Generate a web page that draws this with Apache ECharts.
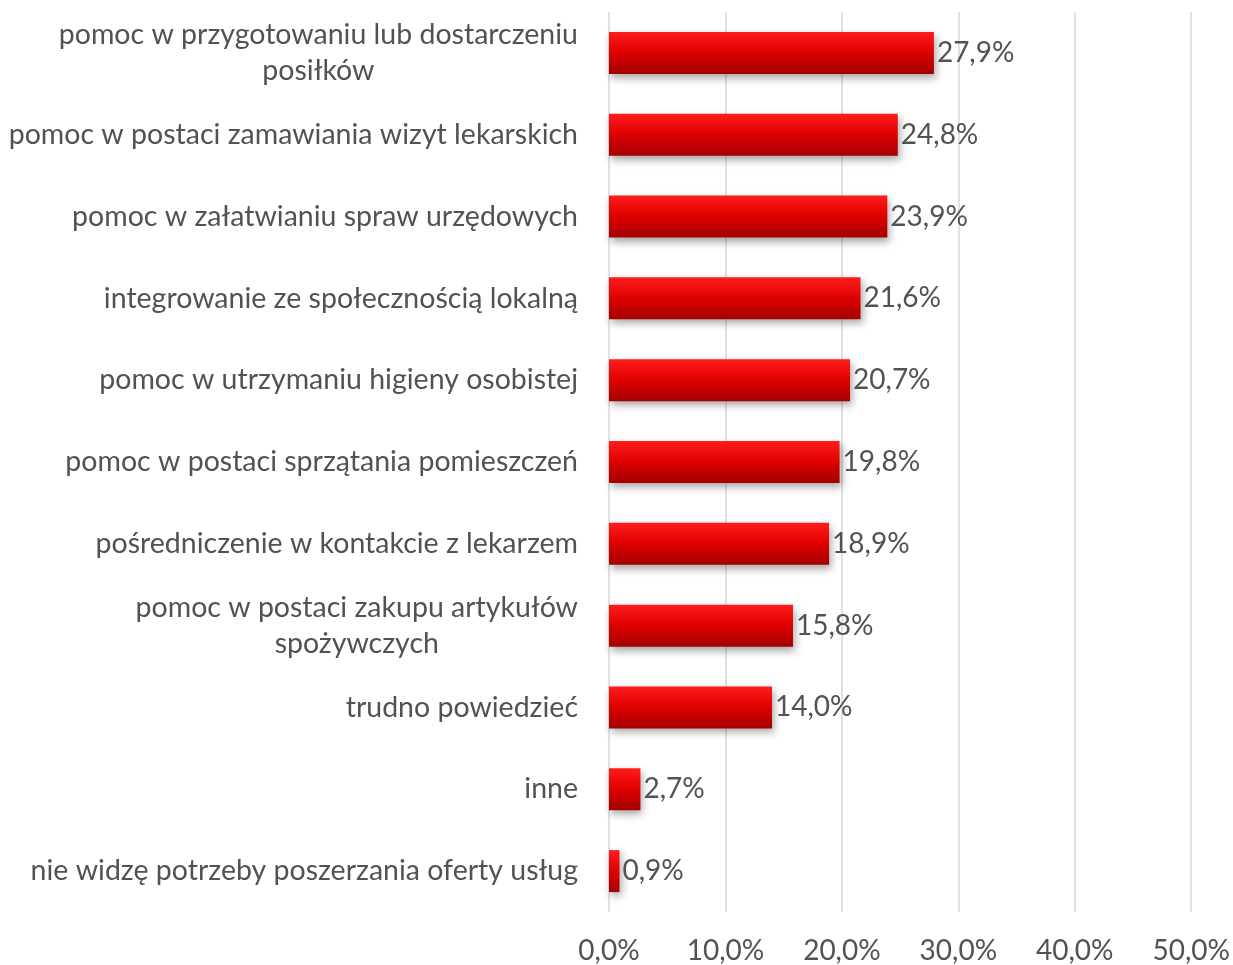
<!DOCTYPE html>
<html>
<head>
<meta charset="utf-8">
<script src="https://cdn.jsdelivr.net/npm/echarts@6/dist/echarts.min.js"></script>
<style>
  html, body { margin: 0; padding: 0; background: #fff; }
  #chart { width: 1233px; height: 965px; }
</style>
</head>
<body>
<div id="chart"></div>
<script>
// Categories, top to bottom
const categories = [
  'pomoc w przygotowaniu lub dostarczeniu\nposiłków',
  'pomoc w postaci zamawiania wizyt lekarskich',
  'pomoc w załatwianiu spraw urzędowych',
  'integrowanie ze społecznością lokalną',
  'pomoc w utrzymaniu higieny osobistej',
  'pomoc w postaci sprzątania pomieszczeń',
  'pośredniczenie w kontakcie z lekarzem',
  'pomoc w postaci zakupu artykułów\nspożywczych',
  'trudno powiedzieć',
  'inne',
  'nie widzę potrzeby poszerzania oferty usług'
];
// Share of answers, percent
const values = [27.9, 24.8, 23.9, 21.6, 20.7, 19.8, 18.9, 15.8, 14.0, 2.7, 0.9];
// X axis ticks
const xTicks = [0, 10, 20, 30, 40, 50];

const FONT = 'Lato';
const CAT_SIZE = 28.5;
const NUM_SIZE = 28;
const TEXT_COLOR = '#525252';

const fmtPct = v => v.toFixed(1).replace('.', ',') + '%';

// measure widest line so multi-line labels can be centred on themselves
const ctx = document.createElement('canvas').getContext('2d');
ctx.font = CAT_SIZE + 'px ' + FONT;
const blockWidth = s => Math.max(...s.split('\n').map(l => ctx.measureText(l).width));

// one rich style per wrapped category, as wide as its longest line
const rich = {};
categories.forEach((c, i) => {
  if (c.indexOf('\n') >= 0) {
    rich['c' + i] = {
      fontFamily: FONT, fontSize: CAT_SIZE, color: TEXT_COLOR, lineHeight: 36,
      align: 'center', width: blockWidth(c)
    };
  }
});

const chart = echarts.init(document.getElementById('chart'));
chart.setOption({
  animation: false,
  grid: { left: 609, right: 40, top: 12, bottom: 53, containLabel: false },
  xAxis: {
    type: 'value',
    min: xTicks[0],
    max: xTicks[xTicks.length - 1],
    interval: 10,
    axisLine: { show: false },
    axisTick: { show: false },
    splitLine: { lineStyle: { color: '#d9d9d9', width: 1.5 } },
    axisLabel: {
      formatter: v => fmtPct(v),
      fontFamily: FONT, fontSize: NUM_SIZE, color: TEXT_COLOR, margin: 25
    }
  },
  yAxis: {
    type: 'category',
    inverse: true,
    data: categories,
    axisLine: { show: false },
    axisTick: { show: false },
    axisLabel: {
      fontFamily: FONT, fontSize: CAT_SIZE, color: TEXT_COLOR, margin: 31,
      lineHeight: 36,
      formatter: (s, idx) => {
        if (s.indexOf('\n') < 0) return s;
        return s.split('\n').map(l => '{c' + idx + '|' + l + '}').join('\n');
      },
      rich: rich
    }
  },
  series: [{
    type: 'bar',
    data: values,
    barWidth: 42,
    itemStyle: {
      color: new echarts.graphic.LinearGradient(0, 0, 0, 1, [
        { offset: 0, color: '#ff1c1c' },
        { offset: 0.5, color: '#de0000' },
        { offset: 1, color: '#a30000' }
      ]),
      shadowColor: 'rgba(0,0,0,0.35)',
      shadowBlur: 8,
      shadowOffsetX: 2,
      shadowOffsetY: 4
    },
    label: {
      show: true,
      position: 'right',
      distance: 3,
      formatter: p => fmtPct(p.value),
      fontFamily: FONT, fontSize: NUM_SIZE, color: TEXT_COLOR
    }
  }]
});
</script>
</body>
</html>
